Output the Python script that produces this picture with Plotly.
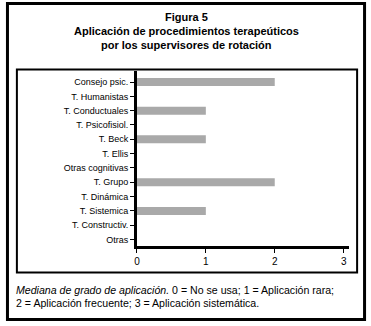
import plotly.graph_objects as go

categories = ["Consejo psic.", "T. Humanistas", "T. Conductuales", "T. Psicofisiol.",
              "T. Beck", "T. Ellis", "Otras cognitivas", "T. Grupo", "T. Dinámica",
              "T. Sistemica", "T. Constructiv.", "Otras"]
values = [2, 0, 1, 0, 1, 0, 0, 2, 0, 1, 0, 0]
x_ticks = [0, 1, 2, 3]

W, H = 371, 326
def px(x): return x / W
def py(y): return 1 - y / H

FONT = "Liberation Sans, Arial, sans-serif"
idx = list(range(len(categories)))

fig = go.Figure(go.Bar(
    x=values, y=idx, orientation="h",
    marker=dict(color="#a9a9a9", line=dict(width=0)),
    width=0.56,
))

fig.update_layout(
    width=W, height=H,
    margin=dict(l=0, r=0, t=0, b=0),
    paper_bgcolor="white", plot_bgcolor="white",
    showlegend=False,
    font=dict(family=FONT, size=9, color="black"),
    xaxis=dict(
        domain=[px(135), px(349)],
        range=[0, 3.08],
        tickvals=x_ticks, ticktext=[str(v) for v in x_ticks],
        ticks="outside", ticklen=4, tickwidth=1, tickcolor="black",
        showline=True, linecolor="black", linewidth=2.5,
        showgrid=False, zeroline=False,
        tickfont=dict(size=10, color="black"),
        fixedrange=True,
    ),
    yaxis=dict(
        domain=[py(246), py(71)],
        range=[11.45, -0.77],
        tickvals=idx, ticktext=categories,
        ticks="outside", ticklen=4, tickwidth=1, tickcolor="black",
        showline=True, linecolor="black", linewidth=2.5,
        showgrid=False, zeroline=False,
        tickfont=dict(size=9, family=FONT, color="black"),
        fixedrange=True,
    ),
)

shapes = [
    dict(type="rect", xref="paper", yref="paper",
         x0=px(4.5), x1=px(364.5), y0=py(3.5), y1=py(319.5),
         line=dict(color="black", width=3)),
    dict(type="rect", xref="paper", yref="paper",
         x0=px(14), x1=px(357), y0=py(69.5), y1=py(272.5),
         line=dict(color="black", width=2)),
]
fig.update_layout(shapes=shapes)

title_lines = ["Figura 5", "Aplicación de procedimientos terapeúticos",
               "por los supervisores de rotación"]
title_y = [17, 31, 45]
annotations = []
for t, y in zip(title_lines, title_y):
    annotations.append(dict(
        text="<b>%s</b>" % t, xref="paper", yref="paper",
        x=px(185), y=py(y), xanchor="center", yanchor="middle",
        showarrow=False, font=dict(size=11, family=FONT, color="black")))

foot = [
    "<i>Mediana de grado de aplicación.</i> 0 = No se usa; 1 = Aplicación rara;",
    "2 = Aplicación frecuente; 3 = Aplicación sistemática.",
]
for t, y in zip(foot, [290, 303]):
    annotations.append(dict(
        text=t, xref="paper", yref="paper",
        x=px(11), y=py(y), xanchor="left", yanchor="middle",
        showarrow=False, font=dict(size=10.6, family=FONT, color="black")))
fig.update_layout(annotations=annotations)

fig.write_html("out.html")
